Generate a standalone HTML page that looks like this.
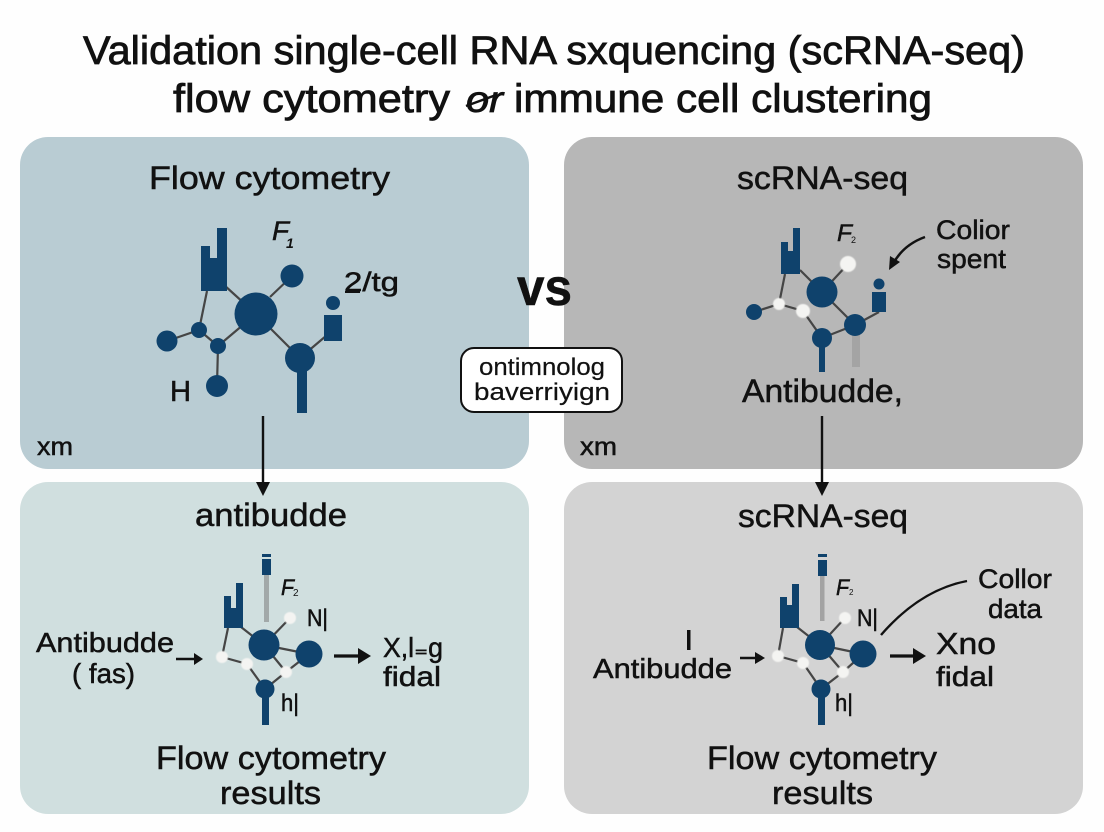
<!DOCTYPE html>
<html><head><meta charset="utf-8"><style>
html,body{margin:0;padding:0;background:#fff}
svg{display:block}
text{font-family:"Liberation Sans",sans-serif;fill:#111;stroke:#111;stroke-width:.5}
.l{stroke:#454545;stroke-width:2.2;fill:none}
.n{fill:#0f426c}
.w{fill:#f4f4f2;filter:url(#g)}
.a{stroke:#111;fill:none;stroke-linecap:butt}
.h{fill:#111}
.sub{fill:#111;stroke:none}
</style></head><body>
<svg width="1104" height="832" viewBox="0 0 1104 832" xmlns="http://www.w3.org/2000/svg">
<defs><filter id="g" x="-30%" y="-30%" width="160%" height="160%"><feGaussianBlur stdDeviation=".6"/></filter></defs>
<rect width="1104" height="832" fill="#fefefe"/>

<!-- Title -->
<text x="83" y="64" font-size="39.5" textLength="942" lengthAdjust="spacingAndGlyphs" style="stroke-width:.8">Validation single-cell RNA sxquencing (scRNA-seq)</text>
<text x="173" y="112" font-size="39.5" textLength="277" lengthAdjust="spacingAndGlyphs" style="stroke-width:.8">flow cytometry</text>
<text x="466" y="112" font-size="37" font-style="italic" textLength="37" lengthAdjust="spacingAndGlyphs" style="stroke-width:.8">or</text>
<path d="M466 106L496 95" stroke="#111" stroke-width="2.5"/>
<text x="514" y="112" font-size="39.5" textLength="418" lengthAdjust="spacingAndGlyphs" style="stroke-width:.8">immune cell clustering</text>

<!-- Panels -->
<rect x="20" y="137" width="509" height="332" rx="28" fill="#b9ccd3"/>
<rect x="564" y="137" width="519" height="332" rx="28" fill="#b7b7b7"/>
<rect x="20" y="482" width="509" height="332" rx="28" fill="#d0dfdf"/>
<rect x="564" y="482" width="519" height="332" rx="28" fill="#d3d3d3"/>

<!-- Panel headings -->
<text x="149" y="189" font-size="32" textLength="241" lengthAdjust="spacingAndGlyphs">Flow cytometry</text>
<text x="737" y="189" font-size="32" textLength="171" lengthAdjust="spacingAndGlyphs">scRNA-seq</text>
<text x="195" y="526" font-size="32" textLength="152" lengthAdjust="spacingAndGlyphs">antibudde</text>
<text x="738" y="527" font-size="32" textLength="170" lengthAdjust="spacingAndGlyphs">scRNA-seq</text>
<text x="156" y="769" font-size="32" textLength="230" lengthAdjust="spacingAndGlyphs">Flow cytometry</text>
<text x="220" y="804" font-size="32" textLength="101" lengthAdjust="spacingAndGlyphs">results</text>
<text x="707" y="769" font-size="32" textLength="230" lengthAdjust="spacingAndGlyphs">Flow cytometry</text>
<text x="772" y="804" font-size="32" textLength="101" lengthAdjust="spacingAndGlyphs">results</text>
<text x="37" y="455" font-size="25" textLength="36" lengthAdjust="spacingAndGlyphs">xm</text>
<text x="580" y="455" font-size="25" textLength="37" lengthAdjust="spacingAndGlyphs">xm</text>

<!-- Top-left network -->
<path class="l" d="M224 285L256 314M270 297L292 276M207 291L199 330L167 341M199 330L218 346L256 314M218 346L217 386M256 314L300 358L333 330"/>
<polygon class="n" points="201,246 210,246 210,258 217,258 217,228 227,228 227,291 201,291"/>
<circle class="n" cx="256" cy="314" r="21.5"/><circle class="n" cx="292" cy="276" r="11.5"/>
<circle class="n" cx="199" cy="330" r="8"/><circle class="n" cx="218" cy="346" r="8"/>
<circle class="n" cx="167" cy="341" r="10.5"/><circle class="n" cx="217" cy="386" r="11"/>
<circle class="n" cx="300" cy="358" r="15"/><rect class="n" x="297" y="360" width="10" height="53"/>
<rect class="n" x="324" y="315" width="18" height="26"/><circle class="n" cx="333" cy="303" r="7"/>
<text x="272" y="240" font-size="27" font-style="italic" textLength="17" lengthAdjust="spacingAndGlyphs">F</text>
<text class="sub" x="286" y="248" font-size="14" font-weight="bold" font-style="italic">1</text>
<text x="344" y="291" font-size="27" textLength="55" lengthAdjust="spacingAndGlyphs">2/tg</text>
<rect x="345" y="291" width="15" height="2" fill="#111"/>
<text x="170" y="401" font-size="29" textLength="21" lengthAdjust="spacingAndGlyphs">H</text>

<!-- Top-right network -->
<path class="l" d="M785 274L779 304L754 312M779 304L803 311L822 338M800 270L822 292L848 264M822 292L855 325L879 312M822 338L855 325"/>
<polygon class="n" points="781,242 788,242 788,251 793,251 793,228 800,228 800,274 781,274"/>
<rect x="852" y="330" width="8" height="37" fill="#a4a4a4"/>
<circle class="n" cx="822" cy="292" r="15.5"/><circle class="n" cx="754" cy="312" r="8"/>
<circle class="n" cx="822" cy="338" r="10"/><rect class="n" x="819" y="340" width="6" height="32"/>
<circle class="n" cx="855" cy="325" r="11"/>
<rect class="n" x="872" y="292" width="14" height="20"/><circle class="n" cx="879" cy="284" r="5.5"/>
<circle class="w" cx="848" cy="264" r="8"/><circle class="w" cx="779" cy="304" r="6"/><circle class="w" cx="803" cy="311" r="7"/>
<text x="837" y="241" font-size="24" font-style="italic" textLength="15" lengthAdjust="spacingAndGlyphs">F</text>
<text class="sub" x="851" y="243" font-size="9">2</text>
<path class="a" stroke-width="2.5" d="M925 237Q903 245 893 264"/>
<polygon class="h" points="889,270 890,256 900,262"/>
<text x="936" y="239" font-size="27" textLength="74" lengthAdjust="spacingAndGlyphs">Colior</text>
<text x="937" y="268" font-size="27" textLength="69" lengthAdjust="spacingAndGlyphs">spent</text>
<text x="742" y="402" font-size="32" textLength="161" lengthAdjust="spacingAndGlyphs">Antibudde,</text>

<!-- Vertical arrows -->
<path class="a" stroke-width="2.4" d="M263 416V484M822 416V484"/>
<polygon class="h" points="256,482 270,482 263,496"/>
<polygon class="h" points="815,482 829,482 822,496"/>

<!-- Bottom-left network -->
<rect x="264" y="575" width="5" height="47" fill="#a2a9a9"/>
<rect class="n" x="262" y="559" width="9" height="16"/><rect class="n" x="262" y="554" width="9" height="3"/>
<path class="l" d="M241 627L264 645L290 618M228 628L222 657L247 664L265 689L286 672L309 654M264 645L309 654M264 645L286 672"/>
<polygon class="n" points="224,596 231,596 231,608 236,608 236,583 243,583 243,628 224,628"/>
<circle class="n" cx="264" cy="645" r="15.5"/><circle class="n" cx="309" cy="654" r="13.5"/>
<circle class="n" cx="265" cy="689" r="9.5"/><rect class="n" x="262" y="692" width="7" height="33"/>
<circle class="w" cx="290" cy="618" r="6"/><circle class="w" cx="222" cy="657" r="6"/>
<circle class="w" cx="247" cy="664" r="6"/><circle class="w" cx="286" cy="672" r="6"/>
<text x="281" y="595" font-size="22" font-style="italic" textLength="13" lengthAdjust="spacingAndGlyphs">F</text>
<text class="sub" x="293" y="596" font-size="10">2</text>
<text x="307" y="626" font-size="24" textLength="21" lengthAdjust="spacingAndGlyphs">N|</text>
<text x="281" y="711" font-size="24" textLength="18" lengthAdjust="spacingAndGlyphs">h|</text>
<text x="36" y="652" font-size="28" textLength="138" lengthAdjust="spacingAndGlyphs">Antibudde</text>
<text x="72" y="683" font-size="28" textLength="63" lengthAdjust="spacingAndGlyphs">( fas)</text>
<path class="a" stroke-width="2.4" d="M176 659H195"/><polygon class="h" points="194,653 203,659 194,665"/>
<path class="a" stroke-width="3.2" d="M334 656H360"/><polygon class="h" points="358,648 371,656 358,664"/>
<text x="383" y="657" font-size="28" textLength="60" lengthAdjust="spacingAndGlyphs">X,l₌g</text>
<text x="383" y="686" font-size="28" textLength="58" lengthAdjust="spacingAndGlyphs">fidal</text>

<!-- Bottom-right network -->
<rect x="820" y="576" width="4.5" height="45" fill="#a3a3a3"/>
<rect class="n" x="818" y="560" width="9" height="16"/><rect class="n" x="818" y="554" width="9" height="3"/>
<path class="l" d="M797 627L820 645L845 618M783 628L778 656L803 663L821 689L843 672L863 654M820 645L863 654M820 645L843 672"/>
<polygon class="n" points="780,597 787,597 787,605 792,605 792,584 799,584 799,628 780,628"/>
<circle class="n" cx="820" cy="645" r="15"/><circle class="n" cx="863" cy="654" r="13.5"/>
<circle class="n" cx="821" cy="689" r="9.5"/><rect class="n" x="818" y="692" width="7" height="33"/>
<circle class="w" cx="845" cy="618" r="6"/><circle class="w" cx="778" cy="656" r="6"/>
<circle class="w" cx="803" cy="663" r="6"/><circle class="w" cx="843" cy="672" r="6"/>
<text x="836" y="595" font-size="22" font-style="italic" textLength="13" lengthAdjust="spacingAndGlyphs">F</text>
<text class="sub" x="849" y="595" font-size="8">2</text>
<text x="857" y="626" font-size="24" textLength="21" lengthAdjust="spacingAndGlyphs">N|</text>
<text x="835" y="711" font-size="24" textLength="18" lengthAdjust="spacingAndGlyphs">h|</text>
<path class="a" stroke-width="2.4" d="M881 635Q920 590 967 581"/>
<text x="978" y="588" font-size="27" textLength="74" lengthAdjust="spacingAndGlyphs">Collor</text>
<text x="988" y="618" font-size="27" textLength="54" lengthAdjust="spacingAndGlyphs">data</text>
<rect x="687" y="630" width="3.5" height="20" fill="#111"/>
<text x="593" y="678" font-size="28" textLength="139" lengthAdjust="spacingAndGlyphs">Antibudde</text>
<path class="a" stroke-width="2.4" d="M740 658H757"/><polygon class="h" points="755,652 765,658 755,664"/>
<path class="a" stroke-width="3.2" d="M890 656H915"/><polygon class="h" points="913,648 926,656 913,664"/>
<text x="936" y="654" font-size="31" textLength="60" lengthAdjust="spacingAndGlyphs">Xno</text>
<text x="936" y="686" font-size="28" textLength="58" lengthAdjust="spacingAndGlyphs">fidal</text>

<!-- Centre -->
<text x="517" y="305" font-size="52" font-weight="bold" textLength="55" lengthAdjust="spacingAndGlyphs">vs</text>
<rect x="461" y="348" width="161" height="64" rx="13" fill="#fff" stroke="#111" stroke-width="2"/>
<text x="479" y="375" font-size="24" textLength="126" lengthAdjust="spacingAndGlyphs" style="stroke-width:.2">ontimnolog</text>
<text x="474" y="400" font-size="24" textLength="136" lengthAdjust="spacingAndGlyphs" style="stroke-width:.2">baverriyign</text>
</svg>
</body></html>
